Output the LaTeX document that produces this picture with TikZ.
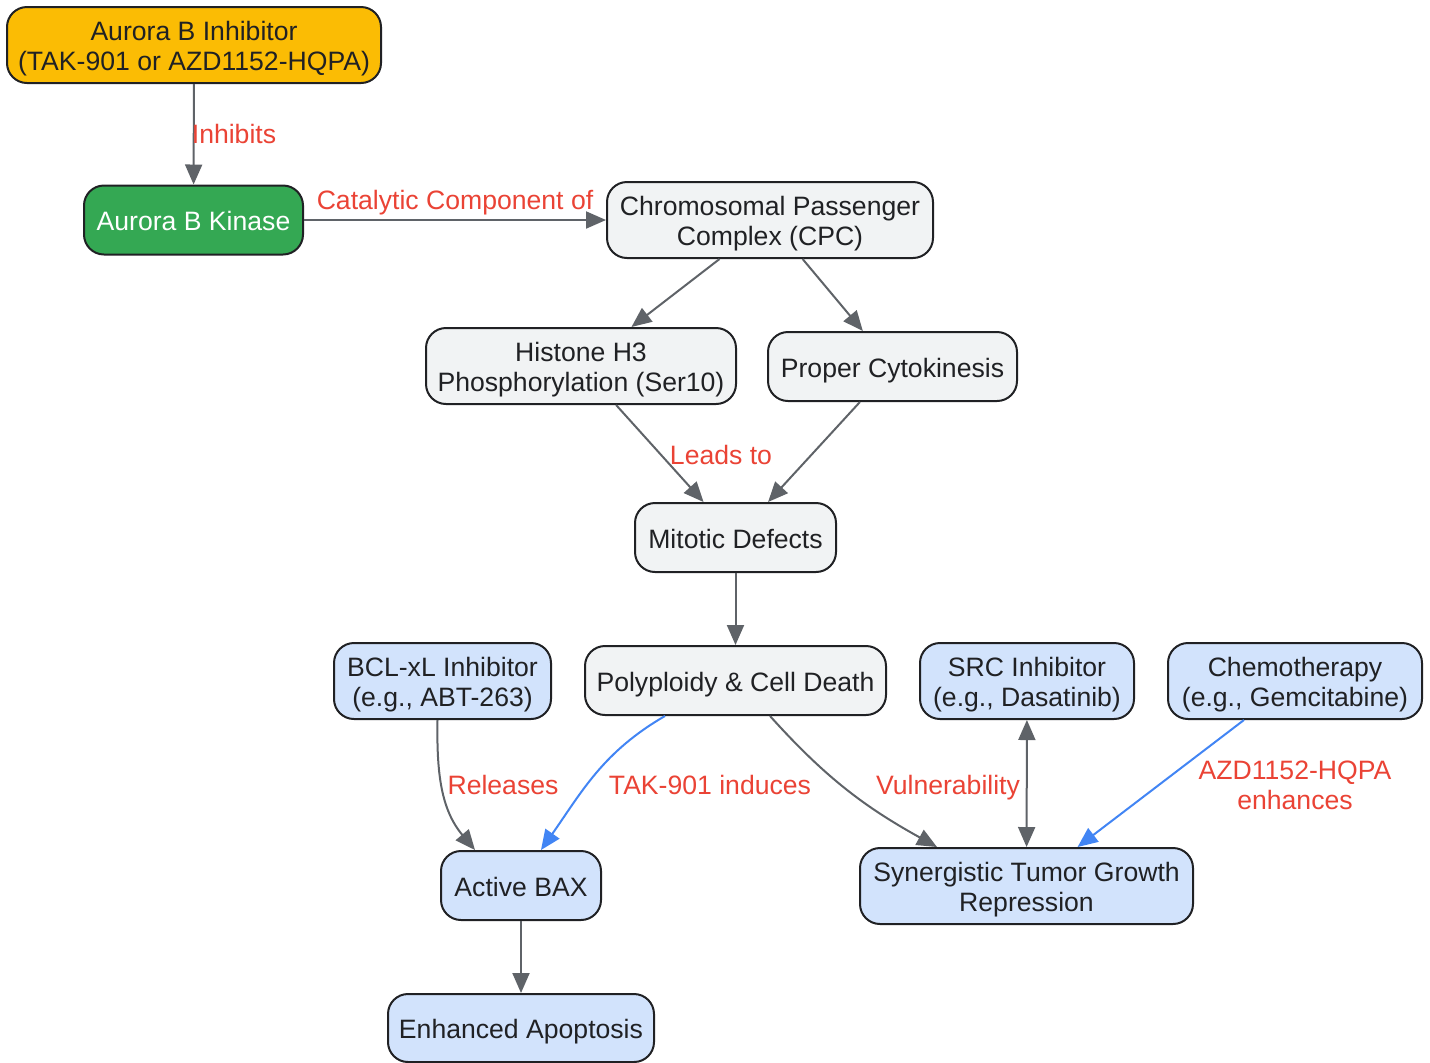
\documentclass[tikz,border=0pt]{standalone}
\usepackage{fontspec}
\setmainfont{Liberation Sans}
\usepackage{tikz}
\usetikzlibrary{arrows.meta}
\definecolor{inhorange}{HTML}{FBBC04}
\definecolor{kingreen}{HTML}{34A853}
\definecolor{greyfill}{HTML}{F1F3F4}
\definecolor{bluefill}{HTML}{D2E3FC}
\definecolor{boxline}{HTML}{202124}
\definecolor{edgegrey}{HTML}{5F6368}
\definecolor{edgeblue}{HTML}{4285F4}
\definecolor{lblred}{HTML}{EA4335}

\begin{document}
\begin{tikzpicture}[x=.5pt, y=-.5pt,
	box/.style={draw=boxline, line width=1pt, rounded corners=10pt, align=center, inner sep=0pt, text=boxline, font=\fontsize{13.3}{15}\selectfont},
	one/.style={text height=13.3pt, text depth=2.8pt},
	two/.style={text height=28.3pt, text depth=2.8pt},
	greybox/.style={box, fill=greyfill},
	bluebox/.style={box, fill=bluefill},
	sz/.style 2 args={minimum width=#1pt, minimum height=#2pt},
	edge/.style={draw=edgegrey, line width=1pt, -{Triangle[length=10pt, width=8.5pt]}},
	bedge/.style={edge, draw=edgeblue},
	lbl/.style={text=lblred, align=center, font=\fontsize{13.3}{15}\selectfont}]
				\useasboundingbox (0,0) rectangle (1430,1062);
				\node[box, two, fill=inhorange, sz={187}{38}] (inhib) at (194,45) {Aurora B Inhibitor\\(TAK-901 or AZD1152-HQPA)};
				\node[box, one, fill=kingreen, text=white, sz={109.5}{34.5}] (kinase) at (193.5,220) {Aurora B Kinase};
				\node[greybox, two, sz={163}{38}] (cpc) at (770,220) {Chromosomal Passenger\\Complex (CPC)};
				\node[greybox, two, sz={155}{38}] (h3) at (581,366) {Histone H3\\Phosphorylation (Ser10)};
				\node[greybox, one, sz={124.5}{34.5}] (cyto) at (892.5,366.5) {Proper Cytokinesis};
				\node[greybox, one, sz={100.5}{34.5}] (mitotic) at (735.5,537.5) {Mitotic Defects};
				\node[greybox, one, sz={150.5}{34.5}] (poly) at (735.5,680.5) {Polyploidy \& Cell Death};
				\node[bluebox, two, sz={108.5}{38}] (bcl) at (442.5,681) {BCL-xL Inhibitor\\(e.g., ABT-263)};
				\node[bluebox, two, sz={107}{38}] (src) at (1027,681) {SRC Inhibitor\\(e.g., Dasatinib)};
				\node[bluebox, two, sz={127}{38}] (chemo) at (1295,681) {Chemotherapy\\(e.g., Gemcitabine)};
				\node[bluebox, one, sz={80}{34.5}] (bax) at (521,885.5) {Active BAX};
				\node[bluebox, two, sz={166.5}{38}] (syn) at (1026.5,886) {Synergistic Tumor Growth\\Repression};
				\node[bluebox, one, sz={133}{34}] (apop) at (521,1028) {Enhanced Apoptosis};
				\draw[edge] (inhib) -- (kinase);
				\draw[edge] (kinase) -- (cpc);
				\draw[edge] (cpc) -- (h3);
				\draw[edge] (cpc) -- (cyto);
				\draw[edge] (h3) -- (mitotic);
				\draw[edge] (cyto) -- (mitotic);
				\draw[edge] (mitotic) -- (poly);
				\draw[edge] ([xshift=-2.5pt]bcl.south) to[out=-91, in=130] ([xshift=-23pt]bax.north);
				\draw[bedge] ([xshift=-35.25pt]poly.south) to[out=-150, in=55] ([xshift=10pt]bax.north);
				\draw[edge] ([xshift=17.25pt]poly.south) to[out=-48, in=151] ([xshift=-44.75pt]syn.north);
				\draw[edge, {Triangle[length=10pt, width=8.5pt]}-{Triangle[length=10pt, width=8.5pt]}] (src) -- (syn);
				\draw[bedge] (chemo) -- (syn);
				\draw[edge] (bax) -- (apop);
				\node[lbl] (lInhib) at (234,134) {Inhibits};
				\node[lbl, text height=12.5pt, text depth=2.8pt] (lCatal) at (455,200) {Catalytic Component of};
				\node[lbl] (lLeads) at (721,455) {Leads to};
				\node[lbl] (lRel) at (503,785) {Releases};
				\node[lbl] (lTak) at (710,785) {TAK-901 induces};
				\node[lbl, text height=12.5pt, text depth=2.8pt] (lVuln) at (948,785) {Vulnerability};
				\node[lbl] (lAzd) at (1295,785) {AZD1152-HQPA\\enhances};
			\end{tikzpicture}
\end{document}
